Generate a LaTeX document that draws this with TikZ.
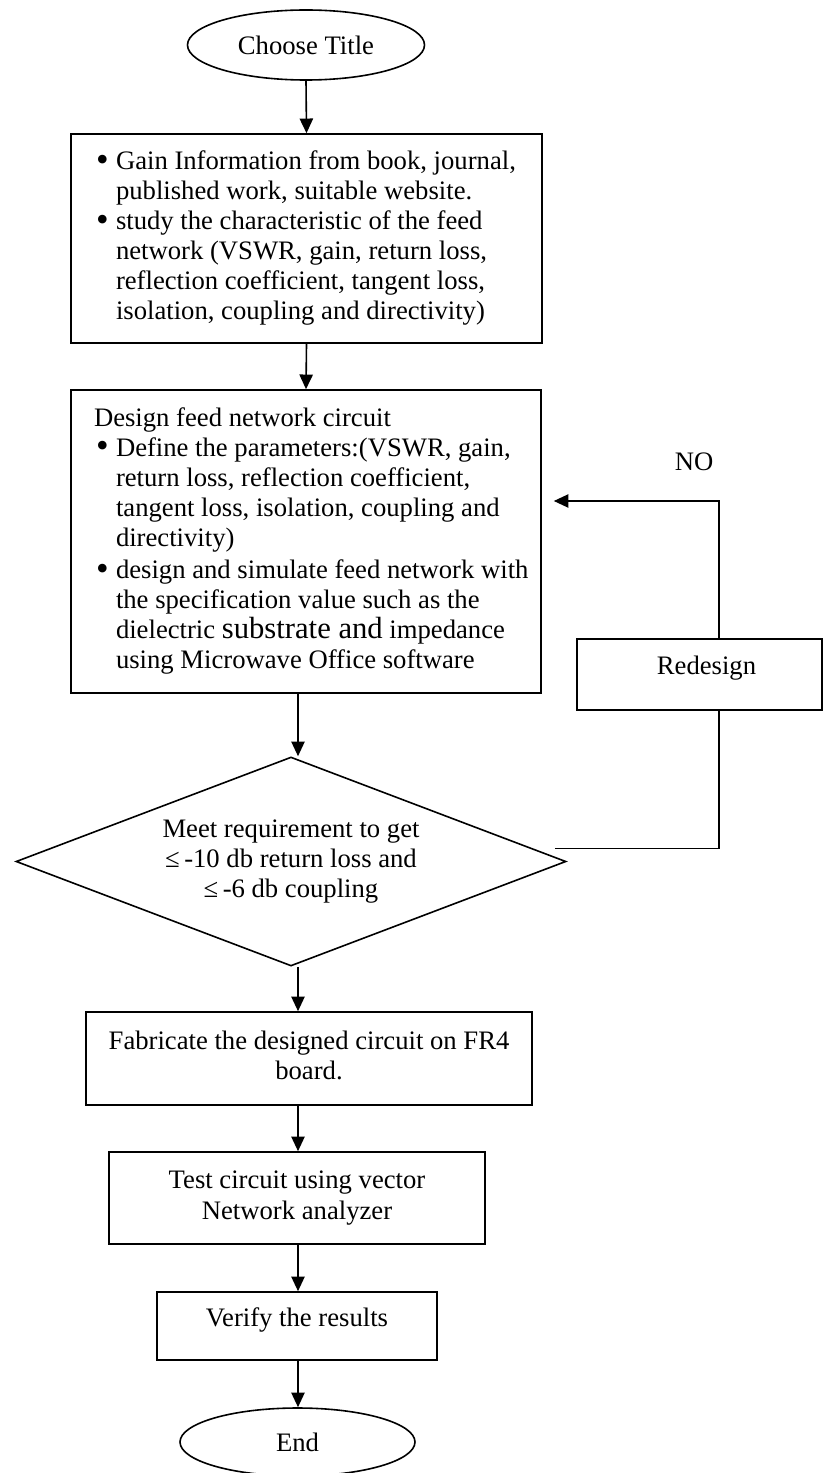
\documentclass[tikz,border=0pt]{standalone}
\usepackage{fontspec}
\setmainfont{Liberation Serif}
\usetikzlibrary{shapes.geometric,arrows.meta,calc}
\newdimen\pu \pu=0.75pt
\newcommand{\bl}{\makebox[22\pu][l]{\hspace*{2\pu}\raisebox{-1.2pt}{\fontsize{27}{22.5}\selectfont\textbullet}}}
\newcommand{\ind}{\hspace*{22\pu}}
\begin{document}
\begin{tikzpicture}[x=0.75pt, y=-0.75pt, line width=1.2pt,
  font=\fontsize{20}{22.5}\selectfont,
  procbox/.style={draw, rectangle, inner xsep=0pt, inner ysep=0pt},
  termin/.style={draw, ellipse, inner sep=0pt},
  decis/.style={draw, diamond, aspect=2.63, inner sep=0pt, align=center},
  arr/.style={-{Triangle[length=11pt,width=10pt]}}]
\useasboundingbox (0,0) rectangle (826,1473);

\node[termin, minimum width=237\pu, minimum height=70\pu] (start) at (306,45) {Choose Title};

\node[procbox, minimum width=471\pu, minimum height=209\pu] (b1) at (306.5,238.5)
 {\makebox[425\pu][l]{\begin{tabular}{@{}l@{}}
  \bl Gain Information from book, journal,\\
  \ind published work, suitable website.\\
  \bl study the characteristic of the feed\\
  \ind network (VSWR, gain, return loss,\\
  \ind reflection coefficient, tangent loss,\\
  \ind isolation, coupling and directivity)
  \end{tabular}}};

\node[procbox, minimum width=470\pu, minimum height=303\pu] (b2) at (306,541.5)
 {\makebox[424\pu][l]{\begin{tabular}{@{}l@{}}
  Design feed network circuit\\
  \bl Define the parameters:(VSWR, gain,\\
  \ind return loss, reflection coefficient,\\
  \ind tangent loss, isolation, coupling and\\
  \ind directivity)\\[2pt]
  \bl design and simulate feed network with\\
  \ind the specification value such as the\\
  \ind dielectric {\fontsize{23}{22.5}\selectfont substrate and} impedance\\
  \ind using Microwave Office software
  \end{tabular}}};

\node[decis, minimum width=550\pu, minimum height=209\pu] (dia) at (291,861.5)
 {Meet requirement to get\\ ≤\,-10 db return loss and\\ ≤\,-6 db coupling};

\node[procbox, minimum width=245\pu, minimum height=71\pu, text height=12pt, text depth=12pt] (rd) at (699.5,674.5) {\hspace*{14\pu}Redesign};
\node (no) at (694,462) {NO};

\node[procbox, minimum width=446\pu, minimum height=93\pu] (b3) at (309,1058.5)
 {\begin{tabular}{@{}c@{}}Fabricate the designed circuit on FR4\\ board.\end{tabular}};
\node[procbox, minimum width=376\pu, minimum height=92\pu] (b4) at (297,1198)
 {\begin{tabular}{@{}c@{}}Test circuit using vector\\[1pt] Network analyzer\end{tabular}};
\node[procbox, minimum width=280\pu, minimum height=68\pu, text height=13pt, text depth=13pt] (b5) at (297,1326)
 {Verify the results};
\node[termin, minimum width=235\pu, minimum height=68\pu] (stop) at (297.5,1442) {End};

\coordinate (ax) at (298,0);
\coordinate (noy) at (0,501);

\draw[arr] (start.south) -- (b1.north);
\draw[arr] (b1.south) -- (b2.north);
\draw[arr] (b2.south -| ax) -- (dia.north -| ax);
\draw[arr] (dia.south -| ax) -- (b3.north -| ax);
\draw[arr] (b3.south -| ax) -- (b4.north -| ax);
\draw[arr] (b4.south -| ax) -- (b5.north -| ax);
\draw[arr] (b5.south -| ax) -- (stop.north -| ax);

\draw ($(dia.east)+(-12,-13)$) -| ($(rd.south)+(19.5,0)$);
\draw[arr] ($(rd.north)+(19.5,0)$) |- ($(b2.east |- noy)+(12,0)$);
\end{tikzpicture}
\end{document}
